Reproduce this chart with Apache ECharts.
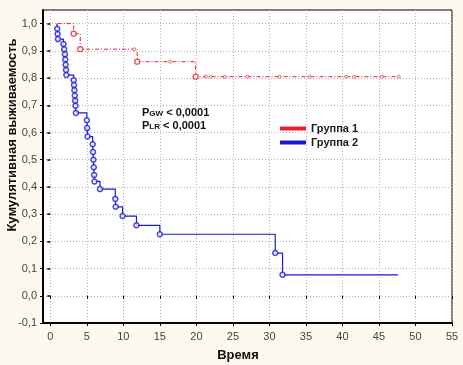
<!DOCTYPE html>
<html><head><meta charset="utf-8">
<script src="https://cdn.jsdelivr.net/npm/echarts@6/dist/echarts.min.js"></script>
<style>html,body{margin:0;padding:0;background:#fdf9ef;}#c{width:463px;height:365px;}</style>
</head><body><div id="c"></div>
<script>
// ---- data ----
const xTicks = [0, 5, 10, 15, 20, 25, 30, 35, 40, 45, 50, 55];
const yTicks = [-0.1, 0.0, 0.1, 0.2, 0.3, 0.4, 0.5, 0.6, 0.7, 0.8, 0.9, 1.0];
const seriesNames = ['Группа 1', 'Группа 2'];
const xAxisName = 'Время';
const yAxisName = 'Кумулятивная выживаемость';

// Group 1: step curve (time, survival)
const g1Times = [1.0, 3.2, 4.1, 11.9, 19.9, 47.7];
const g1Surv  = [1.0, 0.963, 0.906, 0.86, 0.805, 0.805];
const g1EventTimes = [3.2, 4.1, 11.9, 19.9];
const g1EventSurv  = [0.963, 0.906, 0.86, 0.805];
const g1CensorTimes = [11.5, 16.4, 21.3, 22.0, 23.9, 27.0, 31.4, 35.5, 40.5, 41.6, 45.4, 47.7];
const g1CensorSurv  = [0.906, 0.86, 0.805, 0.805, 0.805, 0.805, 0.805, 0.805, 0.805, 0.805, 0.805, 0.805];

// Group 2
const g2Times = [0.9, 0.95, 1.0, 1.05, 1.8, 1.9, 2.0, 2.05, 2.1, 2.15, 2.2,
  3.2, 3.25, 3.3, 3.35, 3.4, 3.45, 3.5, 5.0, 5.05, 5.1,
  5.8, 5.85, 5.9, 5.95, 6.0, 6.05, 6.8, 8.9, 8.95, 9.9, 11.8, 15.0, 30.8, 31.8, 47.6];
const g2Surv = [1.0, 0.981, 0.962, 0.943, 0.925, 0.906, 0.887, 0.868, 0.849, 0.830, 0.811,
  0.792, 0.774, 0.755, 0.736, 0.717, 0.698, 0.672, 0.645, 0.616, 0.585,
  0.557, 0.528, 0.50, 0.472, 0.444, 0.42, 0.392, 0.356, 0.327, 0.293, 0.259, 0.226, 0.157, 0.077, 0.077];
const g2CensorTimes = [17.3, 22.0, 25.4, 26.8, 47.6];
const g2CensorSurv  = [0.226, 0.226, 0.226, 0.226, 0.077];

const pLines = ['< 0,0001', '< 0,0001'];
// ---- end data ----

const RED = '#e8202e', BLUE = '#1a1ad0';
const FONT = 'Liberation Sans, Arial';
const zip = (a, b) => a.map((v, i) => [v, b[i]]);
const g2EventPts = zip(g2Times, g2Surv).slice(1, -1);
const tickPath = 'path://M0,0L0,10';

const chart = echarts.init(document.getElementById('c'), null, {renderer: 'canvas'});
const gridLine = {show: true, lineStyle: {color: '#b4b4b4', width: 1, type: [1, 2]}};
const pStyle = {fontFamily: FONT, fontWeight: 'bold', fontSize: 11, fill: '#111', lineHeight: 13, verticalAlign: 'bottom'};
const sStyle = {fontFamily: FONT, fontWeight: 'bold', fontSize: 8, fill: '#111', lineHeight: 10, verticalAlign: 'bottom'};
chart.setOption({
  backgroundColor: '#fdf9ef',
  animation: false,
  grid: {left: 43, top: 10, right: 11, bottom: 42, show: true, outerBoundsMode: 'none', containLabel: false,
         backgroundColor: '#ffffff', borderColor: '#000', borderWidth: 1},
  legend: {
    data: seriesNames, orient: 'vertical', left: 280, top: 122, padding: 0, itemWidth: 26, itemHeight: 4, itemGap: 1,
    icon: 'rect', textStyle: {fontFamily: FONT, fontWeight: 'bold', fontSize: 11, color: '#1a1a1a', lineHeight: 13}
  },
  xAxis: [{
    type: 'value', min: -1, max: 55, position: 'bottom',
    axisLine: {show: true, onZero: false, lineStyle: {color: '#000', width: 2}},
    axisTick: {show: true, length: 3, customValues: xTicks, lineStyle: {color: '#000'}},
    axisLabel: {customValues: xTicks, margin: 8, fontFamily: FONT, fontSize: 11, color: '#444'},
    splitLine: gridLine
  }, {
    type: 'value', min: -1, max: 55, position: 'top',
    axisLine: {show: false}, axisLabel: {show: false}, splitLine: {show: false},
    axisTick: {show: true, inside: true, length: 3, customValues: xTicks, lineStyle: {color: '#000'}}
  }],
  yAxis: [{
    type: 'value', min: -0.1, max: 1.05, position: 'left',
    axisLine: {show: true, onZero: false, lineStyle: {color: '#000', width: 2}},
    axisTick: {show: true, length: 3, customValues: yTicks, lineStyle: {color: '#000'}},
    axisLabel: {customValues: yTicks, margin: 6, fontFamily: FONT, fontSize: 11, color: '#444',
      formatter: v => (Math.round(v * 10) / 10).toFixed(1).replace('.', ',')},
    splitLine: gridLine
  }, {
    type: 'value', min: -0.1, max: 1.05, position: 'right',
    axisLine: {show: false}, axisLabel: {show: false}, splitLine: {show: false},
    axisTick: {show: true, inside: true, length: 3, customValues: yTicks, lineStyle: {color: '#000', width: 1.5}}
  }],
  graphic: [{
    type: 'text', left: 142, top: 107,
    style: {
      text: '{p|P}{s|GW}{p| ' + pLines[0] + '}\n{p|P}{s|LR}{p| ' + pLines[1] + '}',
      rich: {p: pStyle, s: sStyle}
    }
  }, {
    type: 'text', x: 238, y: 355,
    style: {text: xAxisName, fontFamily: FONT, fontWeight: 'bold', fontSize: 13, fill: '#111', align: 'center', verticalAlign: 'middle'}
  }, {
    type: 'text', x: 12, y: 135, rotation: Math.PI / 2,
    style: {text: yAxisName, fontFamily: FONT, fontWeight: 'bold', fontSize: 13, fill: '#111', align: 'center', verticalAlign: 'middle'}
  }],
  series: [
    {name: seriesNames[0], type: 'line', step: 'end', data: zip(g1Times, g1Surv), showSymbol: false, z: 3,
     color: RED, lineStyle: {color: RED, width: 1, type: [4, 2, 1, 2]}},
    {name: seriesNames[1], type: 'line', step: 'end', data: zip(g2Times, g2Surv), showSymbol: false, z: 2,
     color: BLUE, lineStyle: {color: BLUE, width: 1.2}},
    {name: 'g1ev', type: 'scatter', data: zip(g1EventTimes, g1EventSurv), symbol: 'circle', symbolSize: 5, z: 4,
     itemStyle: {color: '#fff', borderColor: RED, borderWidth: 1.3}},
    {name: 'g1cens', type: 'scatter', data: zip(g1CensorTimes, g1CensorSurv), symbol: 'circle', symbolSize: 3, z: 4,
     itemStyle: {color: '#fff', borderColor: RED, borderWidth: 0.8}},
    {name: 'g2ev', type: 'scatter', data: g2EventPts, symbol: 'circle', symbolSize: 5, z: 4,
     itemStyle: {color: '#fff', borderColor: BLUE, borderWidth: 1.5}},
    {name: 'g2cens', type: 'scatter', data: zip(g2CensorTimes, g2CensorSurv), symbol: tickPath, symbolSize: [1, 5], z: 4,
     itemStyle: {color: BLUE, borderColor: BLUE, borderWidth: 0.8}}
  ]
});
</script></body></html>
